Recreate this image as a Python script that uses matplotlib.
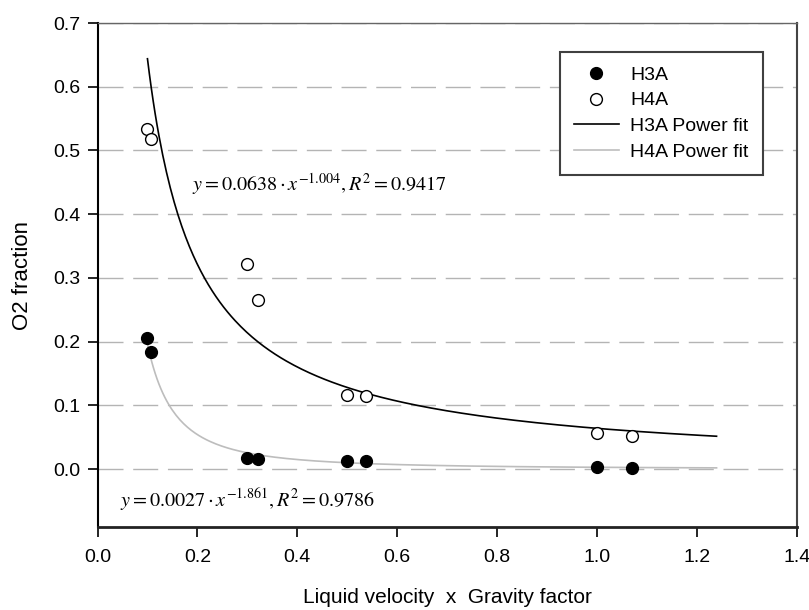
import numpy as np
import matplotlib.pyplot as plt

plt.rcParams['font.family'] = ['Liberation Sans', 'DejaVu Sans']
plt.rcParams['mathtext.fontset'] = 'stix'

# measured points
x_vals = [0.1, 0.108, 0.3, 0.322, 0.5, 0.537, 1.0, 1.07]
h3a = [0.206, 0.183, 0.018, 0.015, 0.012, 0.012, 0.003, 0.002]
h4a = [0.533, 0.518, 0.322, 0.266, 0.116, 0.115, 0.057, 0.052]

# power fit coefficients (a * x^b), as printed on the chart
fit_black = (0.0638, -1.004)
fit_gray = (0.0027, -1.861)
fit_range = (0.1, 1.239)

fig = plt.figure(figsize=(8.09, 6.10), dpi=100)
ax = fig.add_axes([97.5 / 809, 1 - 527 / 610, 699.5 / 809, 504 / 610])

# dashed gridlines
for yv in np.arange(0.0, 0.75, 0.1):
    ax.axhline(yv, color='#b4b4b4', linewidth=1.0, dashes=(18, 7), zorder=0)

xf = np.linspace(fit_range[0], fit_range[1], 300)

ax.plot(x_vals, h3a, 'o', color='black', markersize=8.5, label='H3A', zorder=3)
ax.plot(x_vals, h4a, 'o', markerfacecolor='white', markeredgecolor='black',
        markeredgewidth=1.0, markersize=8.5, label='H4A', zorder=3)
ax.plot(xf, fit_black[0] * xf ** fit_black[1], color='black', linewidth=1.2,
        label='H3A Power fit', zorder=2)
ax.plot(xf, fit_gray[0] * xf ** fit_gray[1], color='#bdbdbd', linewidth=1.2,
        label='H4A Power fit', zorder=2)

ax.text(0.19, 0.447, r'$y = 0.0638 \cdot x^{-1.004}, R^{2} = 0.9417$',
        fontsize=14.5, va='center', ha='left')
ax.text(0.045, -0.05, r'$y = 0.0027 \cdot x^{-1.861}, R^{2} = 0.9786$',
        fontsize=14.5, va='center', ha='left')

ax.set_xlim(0, 1.4)
ax.set_ylim(-0.091, 0.7)
ax.set_xticks(np.arange(0, 1.41, 0.2))
ax.set_yticks(np.arange(0, 0.71, 0.1))
ax.xaxis.set_major_formatter(plt.FormatStrFormatter('%.1f'))
ax.yaxis.set_major_formatter(plt.FormatStrFormatter('%.1f'))
ax.tick_params(direction='out', length=7, width=1.2, labelsize=14)
ax.tick_params(axis='x', pad=9)
ax.tick_params(axis='y', pad=5)

ax.spines['left'].set_linewidth(1.5)
ax.spines['bottom'].set_linewidth(2.0)
ax.spines['bottom'].set_color('#222222')
ax.spines['top'].set_linewidth(1.0)
ax.spines['top'].set_color('#666666')
ax.spines['right'].set_linewidth(1.5)
ax.spines['right'].set_color('#444444')

ax.set_xlabel('Liquid velocity  x  Gravity factor', fontsize=15, labelpad=16)
ax.set_ylabel('O2 fraction', fontsize=16, labelpad=15)

leg = ax.legend(loc='upper left', bbox_to_anchor=(560 / 809, 1 - 52 / 610),
                bbox_transform=fig.transFigure, borderaxespad=0, fontsize=14,
                frameon=True, fancybox=False, edgecolor='#404040',
                handlelength=2.3, handletextpad=0.6, borderpad=0.72,
                labelspacing=0.42, framealpha=1)
leg.get_frame().set_linewidth(1.5)

fig.savefig('out.png', dpi=100)
